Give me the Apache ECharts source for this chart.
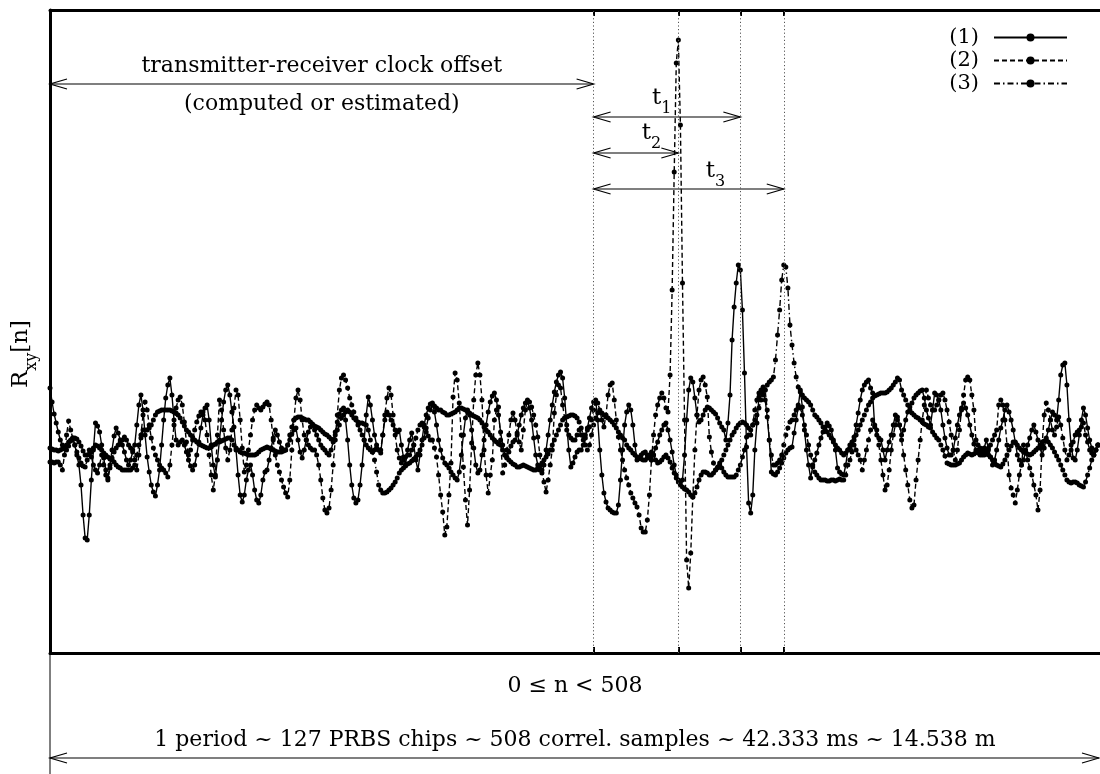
<!DOCTYPE html>
<html>
<head>
<meta charset="utf-8">
<script src="https://cdn.jsdelivr.net/npm/echarts@6/dist/echarts.min.js"></script>
<style>
  html, body { margin: 0; padding: 0; background: #fff; }
  #chart { width: 1100px; height: 774px; }
</style>
</head>
<body>
<div id="chart"></div>
<script>
// Correlation samples, 0 <= n < 508 (arbitrary units)
const N_SAMPLES = 508;

const series1 = [
  72, 58, 46, 37, 28, 20, 15, 12, 10, 14,
  19, 22, 15, 5, -5, -25, -55, -78, -80, -55,
  -20, 10, 37, 34, 28, 15, 2, -10, -18, -5,
  10, 24, 32, 27, 20, 15, 8, 0, -5, 0,
  8, 15, 35, 55, 65, 50, 25, 3, -12, -25,
  -32, -36, -25, -10, 15, 40, 62, 75, 82, 65,
  40, 20, 15, 18, 20, 15, 8, 0, -6, -10,
  -5, 5, 18, 32, 45, 52, 55, 40, 15, -5,
  -17, 0, 20, 40, 58, 70, 75, 65, 48, 33,
  10, -15, -35, -42, -35, -20, -10, -5, -15, -30,
  -40, -43, -35, -20, -12, -10, 0, 12, 22, 30,
  25, 18, 12, 10, 10, 15, 20, 26, 30, 32,
  20, 8, 2, 10, 20, 28, 33, 35, 30, 25,
  20, 15, 12, 10, 7, 5, 10, 18, 28, 38,
  46, 50, 52, 40, 20, -5, -25, -38, -43, -40,
  -25, -5, 20, 45, 63, 55, 40, 25, 15, 10,
  7, 25, 40, 48, 45, 40, 35, 30, 28, 30,
  15, 3, -5, 10, 20, 27, 15, 0, -10, 5,
  20, 35, 45, 52, 56, 57, 48, 35, 20, 10,
  2, -3, -5, -8, -12, -15, -18, -20, -12, 5,
  25, 42, 50, 45, 30, 12, -5, -13, -10, 5,
  20, 35, 48, 58, 64, 67, 60, 45, 28, 15,
  5, 3, 8, 14, 18, 20, 25, 35, 45, 52,
  57, 58, 52, 40, 22, 5, -5, -10, -13, -5,
  10, 25, 40, 55, 68, 78, 85, 88, 82, 62,
  35, 10, -7, -3, 3, 8, 10, 10, 15, 22,
  32, 42, 52, 58, 60, 40, 10, -15, -33, -42,
  -48, -50, -52, -53, -53, -45, -20, 10, 35, 48,
  55, 50, 35, 15, 0, 2, 5, 7, 8, 5,
  2, 0, 5, 12, 18, 25, 30, 35, 37, 30,
  20, 8, -5, -15, -20, -22, -20, 5, 40, 70,
  82, 78, 62, 45, 38, 40, 45, 50, 53, 52,
  50, 48, 46, 42, 37, 33, 30, 20, 37, 65,
  120, 153, 177, 195, 190, 150, 87, 13, -43, -53,
  -35, 10, 37, 63, 67, 70, 60, 43, 20, -12,
  -14, -15, -12, -8, -3, 2, 7, 10, 12, 13,
  27, 40, 53, 70, 53, 30, 10, -5, -18, -7,
  0, 7, 15, 22, 28, 33, 37, 34, 30, 20,
  10, -8, -12, -14, -15, -5, 10, 15, 18, 23,
  35, 47, 60, 70, 75, 78, 80, 72, 67, 33,
  25, 22, 20, 10, 0, 10, 18, 25, 35, 45,
  40, 35, 25, 30, 40, 48, 53, 57, 62, 65,
  67, 69, 70, 62, 50, 42, 35, 50, 67, 65,
  60, 50, 35, 22, 12, 5, 5, 10, 22, 35,
  45, 52, 57, 52, 45, 35, 25, 16, 10, 7,
  5, 5, 12, 20, 12, 3, -5, 0, 10, 20,
  32, 40, 50, 55, 48, 40, 30, 18, 5, 0,
  -5, 0, 8, 15, 22, 30, 35, 28, 20, 12,
  5, 12, 22, 30, 40, 48, 45, 40, 60, 85,
  95, 97, 75, 40, 15, 2, 0, 10, 25, 40,
  52, 45, 32, 20, 12, 5, 10, 15
];

const series2 = [
  -2, -2, -3, -2, -2, -5, -10, 5, 25, 39,
  30, 22, 15, 8, 2, -3, -6, -7, 0, 10,
  3, -5, -10, -13, -5, 5, -5, -15, -20, -8,
  2, 8, 12, 15, 18, 20, 23, 20, 15, 12,
  10, 0, -10, 5, 25, 45, 58, 50, 35, 22,
  12, 5, 0, -5, -8, -10, -13, -17, -5, 15,
  35, 52, 60, 63, 55, 38, 18, 5, 10, 20,
  30, 38, 44, 48, 48, 40, 25, 5, -15, -30,
  -15, 25, 60, 50, 30, 12, 0, 10, 30, 52,
  70, 65, 40, 12, -12, -5, 10, 25, 40, 50,
  55, 52, 50, 53, 56, 58, 55, 40, 20, 5,
  -5, -12, -20, -27, -33, -37, -20, 10, 40, 62,
  70, 60, 40, 25, 20, 15, 12, 10, 10, 5,
  -5, -20, -38, -50, -53, -48, -30, -5, 20, 45,
  70, 82, 85, 80, 72, 62, 55, 48, 42, 35,
  30, 25, 20, 15, 12, 10, 8, 10, 12, 10,
  10, 25, 45, 62, 72, 65, 45, 25, 10, 2,
  -3, 0, 3, 5, 5, 10, 15, 22, 30, 35,
  37, 33, 28, 24, 20, 20, 12, 3, -15, -35,
  -52, -75, -67, -35, -3, 63, 87, 80, 57, 25,
  -7, -40, -65, -30, 17, 60, 85, 97, 85, 60,
  10, -15, -33, -15, 0, 40, 50, 53, 20, -13,
  -5, 10, 25, 40, 47, 40, 27, 18, 10, 30,
  50, 60, 58, 53, 45, 35, 23, 5, -10, -22,
  -32, -20, -5, 10, 47, 65, 75, 72, 55, 42,
  30, 25, 22, 20, 20, 25, 30, 25, 20, 25,
  30, 33, 40, 50, 57, 57, 50, 40, 33, 45,
  65, 75, 77, 60, 40, 23, 10, 0, -10, -18,
  -25, -33, -38, -43, -47, -55, -68, -72, -72, -60,
  -35, 0, 25, 45, 55, 62, 67, 62, 52, 48,
  85, 170, 288, 397, 420, 335, 177, 40, -100, -128,
  -93, -37, 10, 45, 70, 80, 83, 75, 63, 23,
  8, -3, -10, -8, -3, -8, -12, -15, -17, -17,
  -17, -17, -15, -10, -5, 3, 10, 23, 25, 25,
  35, 50, 60, 67, 70, 73, 70, 50, 20, 5,
  -5, -5, -3, 0, 5, 15, 25, 32, 38, 40,
  45, 50, 55, 52, 45, 35, 25, 15, 5, -5,
  -12, -15, -18, -20, -20, -20, -21, -21, -20, -20,
  -21, -20, -19, -20, -20, -15, -5, 0, 8, 15,
  10, 5, 0, -10, 0, 10, 20, 30, 40, 35,
  30, 15, 0, -15, -30, -25, -10, 10, 25, 35,
  43, 35, 20, 5, -10, -25, -40, -48, -45, -20,
  0, 20, 40, 55, 70, 62, 55, 50, 50, 55,
  60, 65, 67, 60, 50, 38, 25, 10, 0, 10,
  30, 50, 65, 80, 83, 80, 65, 50, 20, 15,
  10, 7, 5, 7, 10, 15, 20, 25, 30, 55,
  60, 55, 40, 15, -15, -28, -35, -43, -30, -15,
  -5, 15, 10, 0, -8, -15, -25, -35, -50, -30,
  15, 45, 57, 50, 40, 30, 25, 33, 43, 35,
  22, 10, 0, 5, 10, 18, 25, 28, 30, 33,
  37, 25, 18, 10, 7, 5, 10, 15
];

const series3 = [
  12, 11, 10, 10, 9, 10, 11, 12, 15, 18,
  20, 21, 22, 21, 18, 14, 9, 5, 5, 6,
  8, 12, 15, 14, 12, 10, 7, 5, 3, 1,
  0, -2, -5, -7, -8, -10, -10, -10, -10, -10,
  -8, -5, 5, 15, 22, 30, 30, 30, 32, 35,
  40, 45, 48, 49, 50, 50, 50, 50, 50, 49,
  48, 47, 45, 42, 38, 34, 30, 28, 25, 23,
  20, 18, 16, 15, 14, 13, 12, 12, 13, 15,
  16, 18, 18, 19, 20, 21, 22, 22, 20, 15,
  12, 10, 8, 7, 7, 6, 5, 5, 5, 5,
  6, 8, 10, 11, 12, 13, 12, 11, 10, 9,
  8, 8, 8, 9, 10, 15, 25, 33, 40, 42,
  43, 43, 42, 41, 40, 40, 38, 36, 34, 33,
  32, 30, 28, 26, 25, 23, 21, 20, 25, 30,
  35, 42, 45, 48, 50, 48, 45, 42, 40, 38,
  37, 37, 36, 35, 30, 20, 8, 0, -12, -25,
  -30, -33, -33, -32, -30, -28, -25, -22, -18, -13,
  -10, -8, -6, -4, -3, -1, 1, 3, 6, 10,
  15, 22, 32, 42, 50, 55, 54, 52, 50, 50,
  48, 47, 45, 45, 46, 47, 48, 50, 52, 52,
  51, 50, 48, 47, 45, 44, 43, 42, 40, 37,
  33, 30, 28, 25, 22, 20, 18, 16, 15, 10,
  5, 2, 0, -2, -4, -5, -7, -7, -6, -5,
  -6, -7, -8, -9, -10, -10, -8, -6, -3, 0,
  3, 6, 10, 15, 20, 25, 30, 35, 40, 42,
  43, 44, 45, 45, 44, 42, 38, 32, 25, 15,
  10, 15, 25, 35, 42, 47, 48, 47, 45, 43,
  42, 40, 38, 35, 32, 28, 25, 22, 20, 15,
  12, 10, 7, 5, 3, 2, 1, 0, 0, 2,
  5, 8, 5, 0, -3, -2, 0, 3, 5, 2,
  -2, -8, -13, -18, -22, -25, -27, -29, -30, -32,
  -35, -37, -33, -27, -20, -15, -12, -12, -13, -15,
  -15, -13, -10, -7, -5, 0, 5, 10, 15, 20,
  25, 28, 32, 35, 37, 38, 37, 35, 32, 30,
  35, 40, 45, 52, 60, 65, 70, 75, 78, 80,
  83, 100, 125, 150, 180, 195, 193, 172, 135, 115,
  97, 83, 73, 68, 65, 62, 60, 58, 55, 50,
  45, 43, 40, 37, 33, 30, 28, 25, 22, 18,
  15, 12, 10, 7, 5, 7, 10, 12, 15, 20,
  25, 30, 35, 40, 45, 50, 55, 58, 62, 64,
  65, 66, 67, 67, 67, 68, 70, 72, 75, 78,
  82, 80, 70, 65, 60, 55, 50, 47, 45, 43,
  42, 40, 38, 36, 35, 33, 32, 28, 25, 22,
  20, 15, 10, 4, -3, -4, -5, -5, -5, -4,
  -3, 0, 3, 5, 7, 6, 5, 6, 8, 10,
  12, 11, 10, 7, 5, 3, 0, -3, -5, -6,
  -7, -4, 0, 5, 10, 14, 18, 17, 15, 12,
  10, 8, 7, 6, 5, 6, 8, 10, 12, 15,
  18, 19, 20, 18, 15, 12, 8, 4, 0, -5,
  -10, -15, -20, -22, -23, -22, -22, -23, -25, -26,
  -27, -22, -15, -8, 0, 5, 10, 15
];

const seriesNames = ['(1)', '(2)', '(3)'];
const seriesDash = ['solid', [5, 3], [6, 3, 1.5, 3]];
const markerN = [263, 304, 334, 355];   // dotted reference lines
const Y_MIN = -193, Y_MAX = 450;

const FONT = 'DejaVu Serif';

function toPairs(arr) {
  return arr.map((v, i) => [i, v]);
}

const chartDom = document.getElementById('chart');
const chart = echarts.init(chartDom, null, { renderer: 'canvas' });

const allSeries = [series1, series2, series3].map((arr, k) => ({
  name: seriesNames[k],
  type: 'line',
  data: toPairs(arr),
  symbol: 'circle',
  symbolSize: 5,
  showAllSymbol: true,
  animation: false,
  itemStyle: { color: '#000' },
  lineStyle: { color: '#000', width: 1.4, type: seriesDash[k] },
  z: 3
}));

// vertical dotted lines at the delay markers
allSeries[0].markLine = {
  silent: true,
  symbol: 'none',
  label: { show: false },
  lineStyle: { color: '#555', width: 1, type: [1.2, 2.4] },
  data: markerN.map(n => ({ xAxis: n }))
};

const axisCommon = {
  type: 'value', min: 0, max: N_SAMPLES,
  axisLine: { onZero: false, lineStyle: { color: '#000', width: 3 } },
  axisTick: { show: true, inside: true, length: 6, customValues: markerN, lineStyle: { color: '#000', width: 2 } },
  axisLabel: { show: false },
  splitLine: { show: false }
};

const option = {
  animation: false,
  backgroundColor: '#fff',
  grid: { left: 50, top: 10, right: 0, bottom: 121, containLabel: false },
  xAxis: [
    Object.assign({ position: 'bottom' }, axisCommon),
    Object.assign({ position: 'top' }, axisCommon)
  ],
  yAxis: {
    type: 'value', min: Y_MIN, max: Y_MAX,
    axisLine: { show: true, onZero: false, lineStyle: { color: '#000', width: 3 } },
    axisTick: { show: false },
    axisLabel: { show: false },
    splitLine: { show: false }
  },
  legend: {
    orient: 'vertical',
    right: 27,
    top: 22,
    align: 'right',
    itemWidth: 73,
    itemHeight: 10,
    itemGap: 2,
    selectedMode: false,
    textStyle: { fontFamily: FONT, fontSize: 21, color: '#000', padding: [0, 10, 0, 0] },
    data: seriesNames
  },
  series: allSeries
};

chart.setOption(option);

// ---- annotations (arrows and texts) ----
const arrowSpans = [
  { from: 0, to: 263, v: 376 },
  { from: 263, to: 334, v: 343 },
  { from: 263, to: 304, v: 307 },
  { from: 263, to: 355, v: 271 }
];

const subRich = {
  t: { fontFamily: FONT, fontSize: 23, color: '#000', padding: [0, 0, 7, 0], verticalAlign: 'bottom' },
  s: { fontFamily: FONT, fontSize: 16, color: '#000', verticalAlign: 'bottom' }
};

const textNotes = [
  { n: 131.5, v: 394, text: 'transmitter-receiver clock offset' },
  { n: 131.5, v: 356, text: '(computed or estimated)' },
  { n: 296, v: 358, text: '{t|t}{s|1}', rich: true },
  { n: 291, v: 323, text: '{t|t}{s|2}', rich: true },
  { n: 322, v: 285, text: '{t|t}{s|3}', rich: true }
];

function px(n, v) {
  return chart.convertToPixel({ gridIndex: 0 }, [n, v]);
}

function arrowGraphics(x1, x2, y) {
  const L = 17, H = 5;
  const st = { stroke: '#000', lineWidth: 1.2, fill: null };
  return [
    { type: 'line', shape: { x1: x1, y1: y, x2: x2, y2: y }, style: st, silent: true },
    { type: 'polyline', shape: { points: [[x1 + L, y - H], [x1, y], [x1 + L, y + H]] }, style: st, silent: true },
    { type: 'polyline', shape: { points: [[x2 - L, y - H], [x2, y], [x2 - L, y + H]] }, style: st, silent: true }
  ];
}

const graphics = [];
arrowSpans.forEach(a => {
  const p1 = px(a.from, a.v), p2 = px(a.to, a.v);
  graphics.push(...arrowGraphics(p1[0], p2[0], p1[1]));
});

textNotes.forEach(t => {
  const p = px(t.n, t.v);
  graphics.push({
    type: 'text', x: p[0], y: p[1], silent: true,
    style: t.rich
      ? { text: t.text, rich: subRich, align: 'center', verticalAlign: 'middle' }
      : { text: t.text, fontFamily: FONT, fontSize: 22, fill: '#000', align: 'center', verticalAlign: 'middle' }
  });
});

// below the plot: range text, period arrow, left guide line
const pLeft = px(0, Y_MIN), pRight = px(N_SAMPLES, Y_MIN), pMid = px(N_SAMPLES / 2, Y_MIN);
graphics.push({
  type: 'line', silent: true,
  shape: { x1: pLeft[0], y1: pLeft[1], x2: pLeft[0], y2: 774 },
  style: { stroke: '#000', lineWidth: 1 }
});
graphics.push({
  type: 'text', x: pMid[0], y: pMid[1] + 33, silent: true,
  style: { text: '0 \u2264 n < 508', fontFamily: FONT, fontSize: 22, fill: '#000', align: 'center', verticalAlign: 'middle' }
});
graphics.push({
  type: 'text', x: pMid[0], y: pMid[1] + 87, silent: true,
  style: { text: '1 period ~ 127 PRBS chips ~ 508 correl. samples ~ 42.333 ms ~ 14.538 m', fontFamily: FONT, fontSize: 22, fill: '#000', align: 'center', verticalAlign: 'middle' }
});
graphics.push(...arrowGraphics(pLeft[0], pRight[0] - 1, pLeft[1] + 105));

// y axis name
graphics.push({
  type: 'text', x: 25, y: 354, rotation: Math.PI / 2, silent: true,
  style: { text: '{t|R}{s|xy}{t|[n]}', rich: subRich, align: 'center', verticalAlign: 'middle' }
});

chart.setOption({ graphic: graphics });
window.addEventListener('resize', () => chart.resize());
</script>
</body>
</html>
